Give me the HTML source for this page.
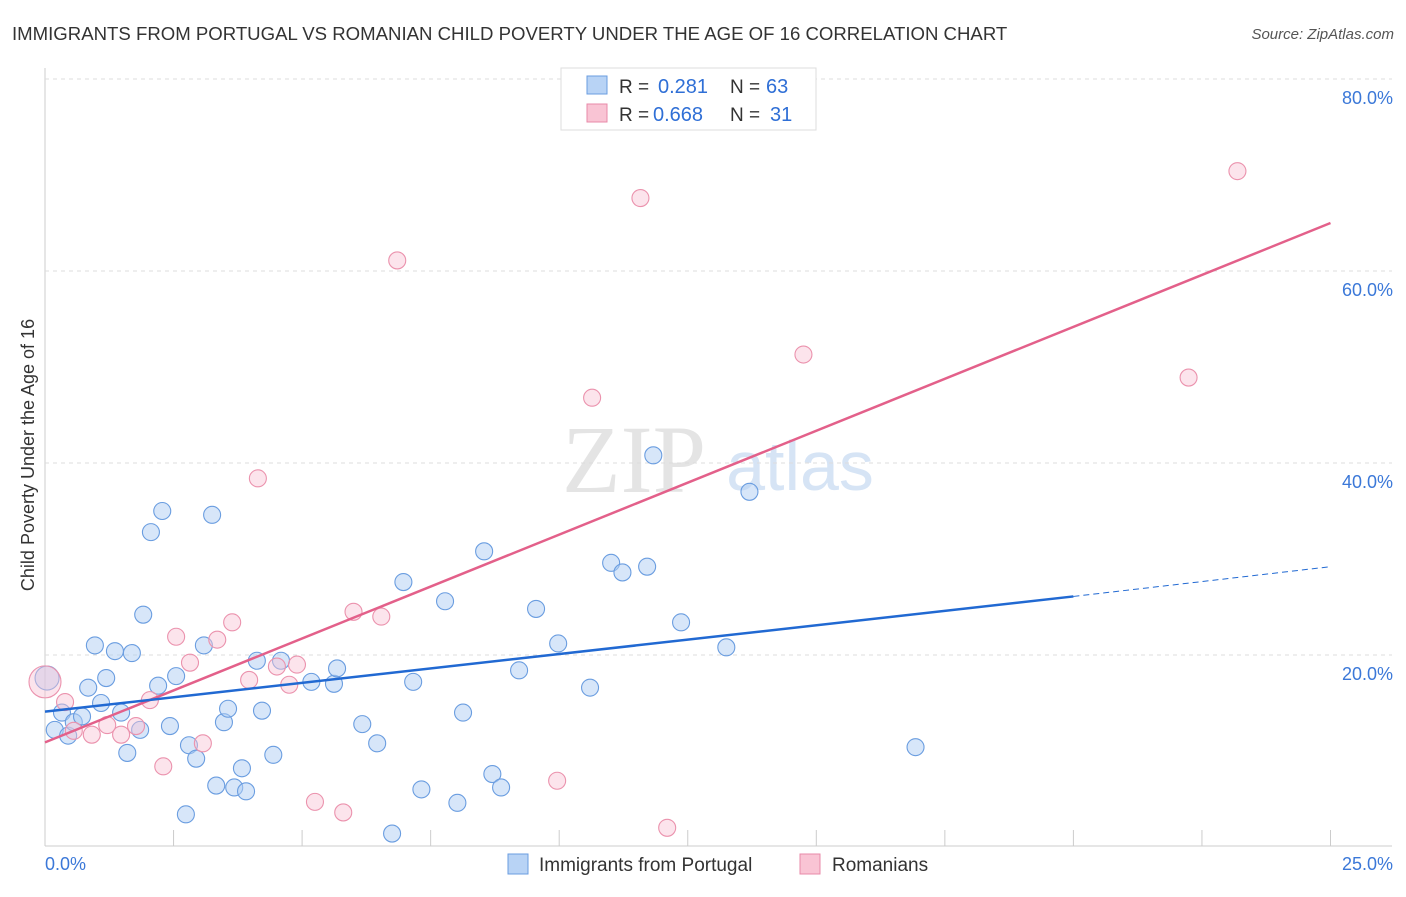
<!DOCTYPE html>
<html><head><meta charset="utf-8"><style>
body{margin:0;background:#fff;font-family:"Liberation Sans",sans-serif}
</style></head><body>
<svg id="c" width="1406" height="892" xmlns="http://www.w3.org/2000/svg">
<text x="12" y="40" font-size="18.6" fill="#333">IMMIGRANTS FROM PORTUGAL VS ROMANIAN CHILD POVERTY UNDER THE AGE OF 16 CORRELATION CHART</text>
<text x="1394" y="39" font-size="15" fill="#555" font-style="italic" text-anchor="end">Source: ZipAtlas.com</text>
<text x="634" y="492" font-size="96" fill="#e4e4e4" font-family="Liberation Serif" text-anchor="middle">ZIP</text>
<text x="800" y="490" font-size="70" fill="#d6e4f5" text-anchor="middle">atlas</text>
<text transform="translate(34,455) rotate(-90)" font-size="18" fill="#333" text-anchor="middle">Child Poverty Under the Age of 16</text>
<g id="grid"></g><g id="marks"></g>
<g>
<rect x="561" y="68" width="255" height="62" fill="#fff" stroke="#ddd"/>
<rect x="587" y="76" width="20" height="18" fill="#b8d3f5" stroke="#6a9de0"/>
<rect x="587" y="104" width="20" height="18" fill="#f9c4d4" stroke="#e88aa8"/>
<text x="619" y="93" font-size="19" fill="#333">R =</text>
<text x="658" y="93" font-size="20" fill="#2f6fd6">0.281</text>
<text x="730" y="93" font-size="19" fill="#333">N =</text>
<text x="766" y="93" font-size="20" fill="#2f6fd6">63</text>
<text x="619" y="121" font-size="19" fill="#333">R =</text>
<text x="653" y="121" font-size="20" fill="#2f6fd6">0.668</text>
<text x="730" y="121" font-size="19" fill="#333">N =</text>
<text x="770" y="121" font-size="20" fill="#2f6fd6">31</text>
</g>
<g>
<rect x="508" y="854" width="20" height="20" fill="#b8d3f5" stroke="#6a9de0"/>
<text x="539" y="871" font-size="19" fill="#333">Immigrants from Portugal</text>
<rect x="800" y="854" width="20" height="20" fill="#f9c4d4" stroke="#e88aa8"/>
<text x="832" y="871" font-size="19" fill="#333">Romanians</text>
</g>
</svg>
<script>
const blueX=[0.04,0.19,0.33,0.45,0.56,0.72,0.84,0.97,1.09,1.19,1.36,1.48,1.60,1.69,1.85,1.91,2.06,2.20,2.28,2.43,2.55,2.74,2.80,2.94,3.09,3.25,3.33,3.48,3.56,3.68,3.83,3.91,4.12,4.22,4.44,4.59,5.18,5.62,5.68,6.17,6.46,6.75,6.97,7.16,7.32,7.78,8.02,8.13,8.54,8.70,8.87,9.22,9.55,9.98,10.60,11.01,11.23,11.71,11.83,12.37,13.25,13.70,16.93];
const blueY=[17.6,12.2,14.0,11.6,13.0,13.6,16.6,21.0,15.0,17.6,20.4,14.0,9.8,20.2,12.2,24.2,32.8,16.8,35.0,12.6,17.8,3.4,10.6,9.2,21.0,34.6,6.4,13.0,14.4,6.2,8.2,5.8,19.4,14.2,9.6,19.4,17.2,17.0,18.6,12.8,10.8,1.4,27.6,17.2,6.0,25.6,4.6,14.0,30.8,7.6,6.2,18.4,24.8,21.2,16.6,29.6,28.6,29.2,40.8,23.4,20.8,37.0,10.4];
const pinkX=[0,0.39,0.56,0.91,1.21,1.48,1.77,2.04,2.30,2.55,2.82,3.07,3.35,3.64,3.97,4.14,4.51,4.75,4.90,5.25,5.80,6.00,6.54,6.85,9.96,10.64,11.58,12.10,14.75,22.24,23.19];
const pinkY=[17.2,15.1,12.1,11.7,12.7,11.7,12.6,15.3,8.4,21.9,19.2,10.8,21.6,23.4,17.4,38.4,18.8,16.9,19.0,4.7,3.6,24.5,24.0,61.1,6.9,46.8,67.6,2.0,51.3,48.9,70.4];
const blueTrend=[14.1,26.1,29.2]; // at x=0, 20, 25
const pinkTrend=[10.9,65.0]; // at x=0, 25
const yTicks=[20,40,60,80];
const xTickLabels=["0.0%","25.0%"];
const X=v=>45+v*51.42, Y=v=>847-v*9.6;
const NS="http://www.w3.org/2000/svg";
function mk(t,a,p){const e=document.createElementNS(NS,t);for(const k in a)e.setAttribute(k,a[k]);p.appendChild(e);return e;}
const grid=document.getElementById('grid'),marks=document.getElementById('marks');
let l=mk('line',{x1:45,y1:68,x2:45,y2:846,stroke:'#ccc'},grid);

l=mk('line',{x1:45,y1:846,x2:1392,y2:846,stroke:'#ccc'},grid);

yTicks.forEach(t=>{const g=mk('line',{x1:45,x2:1392,y1:Y(t),y2:Y(t),stroke:'#ddd','stroke-dasharray':'4,4'},grid);

const tx=mk('text',{x:1393,y:Y(t)+25,'font-size':18,fill:'#3b78d8','text-anchor':'end'},grid);tx.textContent=t.toFixed(1)+'%';
});
for(let i=0;i<=10;i++){const t=mk('line',{x1:X(i*2.5),x2:X(i*2.5),y1:830,y2:846,stroke:'#ccc'},grid);
}
let tx=mk('text',{x:45,y:870,'font-size':18,fill:'#3b78d8'},grid);tx.textContent=xTickLabels[0];

tx=mk('text',{x:1393,y:870,'font-size':18,fill:'#3b78d8','text-anchor':'end'},grid);tx.textContent=xTickLabels[1];

blueX.forEach((v,i)=>{const r=i==0?12:8.5;const c=mk('circle',{cx:X(v),cy:Y(blueY[i]),r:r,fill:'rgba(176,206,244,0.5)',stroke:'#6a9de0','stroke-width':1.1},marks);
});
pinkX.forEach((v,i)=>{const r=i==0?16:8.5;const c=mk('circle',{cx:X(v),cy:Y(pinkY[i]),r:r,fill:'rgba(248,196,212,0.45)',stroke:'#eb92ad','stroke-width':1.1},marks);
});
l=mk('line',{x1:X(0),y1:Y(pinkTrend[0]),x2:X(25),y2:Y(pinkTrend[1]),stroke:'#e3608a','stroke-width':2.5},marks);

l=mk('line',{x1:X(0),y1:Y(blueTrend[0]),x2:X(20),y2:Y(blueTrend[1]),stroke:'#2169d2','stroke-width':2.5},marks);

l=mk('line',{x1:X(20),y1:Y(blueTrend[1]),x2:X(25),y2:Y(blueTrend[2]),stroke:'#2169d2','stroke-width':1,'stroke-dasharray':'6,4'},marks);

</script>
</body></html>
